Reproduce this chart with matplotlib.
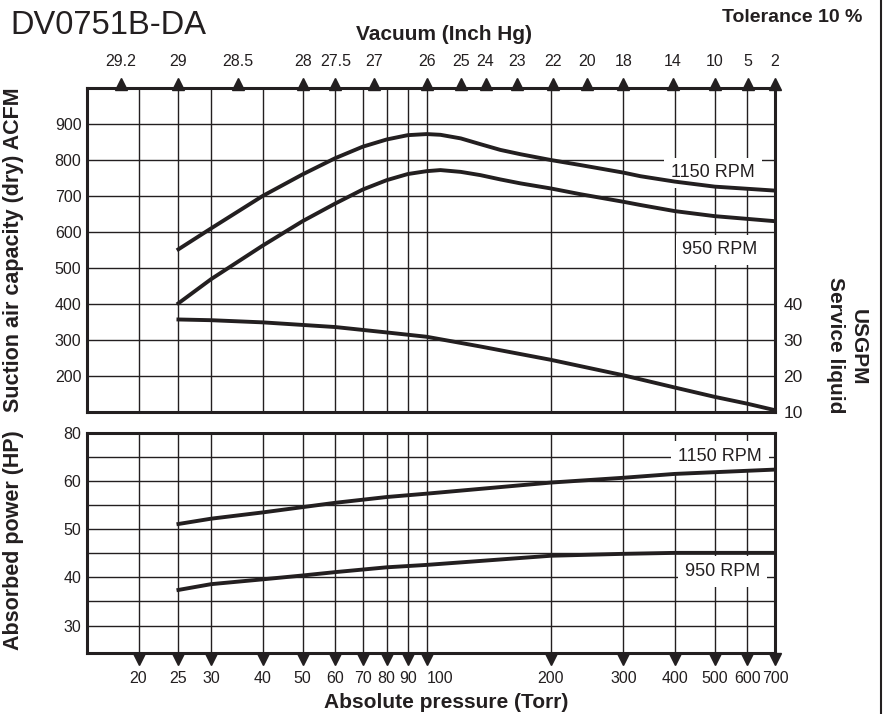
import numpy as np
import matplotlib.pyplot as plt
from matplotlib import transforms
from matplotlib.ticker import NullLocator
from matplotlib.lines import Line2D

plt.rcParams['font.family'] = ['Liberation Sans', 'DejaVu Sans']

# --- data ---
torr_ticks = [20, 25, 30, 40, 50, 60, 70, 80, 90, 100, 200, 300, 400, 500, 600, 700]
torr_labels = [str(t) for t in torr_ticks]

# vacuum scale (inch Hg) and where its marks sit on the Torr axis
vac_labels = ['29.2', '29', '28.5', '28', '27.5', '27', '26', '25', '24', '23',
              '22', '20', '18', '14', '10', '5', '2']
vac_torr = [18.1, 25, 34.8, 50.2, 60.1, 74.7, 100.4, 121, 139, 166,
            202, 245, 300, 396, 501, 602, 700]

# suction capacity (ACFM)
acfm_p = [25, 30, 40, 50, 60, 70, 80, 90, 100, 108, 121, 135, 151, 169, 200, 236, 300, 330, 400, 500, 700]
acfm_1150 = [552, 610, 700, 760, 805, 837, 857, 869, 872, 870, 860, 844, 828, 816, 800, 786, 765, 755, 740, 726, 715]
acfm_950 = [402, 469, 562, 630, 679, 718, 744, 761, 769, 772, 767, 758, 746, 735, 721, 705, 684, 675, 658, 644, 630]

# service liquid (USGPM)
liq_p = [25, 30, 40, 60, 80, 100, 135, 200, 300, 400, 500, 600, 700]
liq_gpm = [35.7, 35.5, 34.9, 33.6, 32.1, 30.9, 28.2, 24.5, 20.2, 16.8, 14.2, 12.3, 10.5]

# absorbed power (HP)
hp_p = [25, 30, 40, 50, 60, 80, 100, 200, 300, 400, 700]
hp_1150 = [51.1, 52.2, 53.5, 54.6, 55.5, 56.7, 57.4, 59.7, 60.7, 61.5, 62.4]
hp_950 = [37.4, 38.6, 39.6, 40.4, 41.1, 42.1, 42.6, 44.5, 44.9, 45.1, 45.1]

acfm_ticks = [200, 300, 400, 500, 600, 700, 800, 900]
gpm_ticks = [10, 20, 30, 40]
hp_ticks = [30, 40, 50, 60, 70]
hp_tick_labels = ['30', '40', '50', '60', '80']
hp_minor = [35, 45, 55, 65]

ink = '#231f20'
grid_kw = dict(color=ink, linewidth=1.0)
W, H = 885, 714

fig = plt.figure(figsize=(W / 100, H / 100), dpi=100)
ax1 = fig.add_axes([87 / W, 1 - 412 / H, 688 / W, 324 / H])
ax2 = fig.add_axes([87 / W, 1 - 653 / H, 688 / W, 220 / H])

for ax in (ax1, ax2):
    ax.set_xscale('log')
    ax.set_xlim(15, 700)
    ax.set_xticks(torr_ticks)
    ax.xaxis.set_minor_locator(NullLocator())
    ax.grid(True, which='both', **grid_kw)
    ax.set_axisbelow(True)
    ax.tick_params(which='both', length=0, labelsize=11.5, colors=ink, pad=4)
    for s in ax.spines.values():
        s.set_linewidth(2.2)
        s.set_color(ink)

# --- upper panel ---
ax1.set_xticklabels([])
ax1.set_ylim(100, 1000)
ax1.set_yticks(acfm_ticks)
ax1.plot(acfm_p, acfm_1150, color=ink, lw=2.8, zorder=4)
ax1.plot(acfm_p, acfm_950, color=ink, lw=2.8, zorder=4)

ax3 = ax1.twinx()
ax3.set_ylim(10, 100)
ax3.set_yticks(gpm_ticks)
ax3.tick_params(length=0, labelsize=12.5, colors=ink, pad=6)
for s in ax3.spines.values():
    s.set_visible(False)
ax3.plot(liq_p, liq_gpm, color=ink, lw=2.8, zorder=4)

top = ax1.secondary_xaxis('top')
top.set_xticks(vac_torr, labels=vac_labels)
top.xaxis.set_minor_locator(NullLocator())
top.tick_params(length=0, pad=14, labelsize=11.5, colors=ink)
top.spines['top'].set_visible(False)

up = transforms.offset_copy(transforms.blended_transform_factory(ax1.transData, ax1.transAxes),
                            fig=fig, y=3, units='points')
ax1.plot(vac_torr, [1] * len(vac_torr), '^', ms=8, color=ink, transform=up, clip_on=False)

box = dict(facecolor='white', edgecolor='none', pad=5)
ax1.text(495, 764, '1150 RPM', fontsize=13, ha='center', va='center', color=ink, bbox=box, zorder=3)
ax1.text(515, 550, '950 RPM', fontsize=13, ha='center', va='center', color=ink, bbox=box, zorder=3)

# --- lower panel ---
ax2.set_xticklabels(torr_labels)
ax2.tick_params(axis='x', pad=13)
for lab in ax2.get_xticklabels():
    if lab.get_text() == '100':
        lab.set_horizontalalignment('left')
ax2.set_ylim(24.3, 70)
ax2.set_yticks(hp_ticks, labels=hp_tick_labels)
ax2.set_yticks(hp_minor, minor=True)
ax2.plot(hp_p, hp_1150, color=ink, lw=2.8, zorder=4)
ax2.plot(hp_p, hp_950, color=ink, lw=2.8, zorder=4)
ax2.text(515, 65.1, '1150 RPM', fontsize=13, ha='center', va='center', color=ink, bbox=box, zorder=3)
ax2.text(521, 41.2, '950 RPM', fontsize=13, ha='center', va='center', color=ink, bbox=box, zorder=3)

down = transforms.offset_copy(transforms.blended_transform_factory(ax2.transData, ax2.transAxes),
                              fig=fig, y=-4, units='points')
ax2.plot(torr_ticks, [0] * len(torr_ticks), 'v', ms=8, color=ink, transform=down, clip_on=False)

# --- titles and axis names ---
fig.text(10 / W, 1 - 25 / H, 'DV0751B-DA', fontsize=23.5, ha='left', va='center', color=ink)
fig.text(862 / W, 1 - 18 / H, 'Tolerance 10 %', fontsize=14, fontweight='bold', ha='right', va='center', color=ink)
fig.text(444 / W, 1 - 35 / H, 'Vacuum (Inch Hg)', fontsize=15, fontweight='bold', ha='center', va='center', color=ink)
fig.text(446 / W, 1 - 702 / H, 'Absolute pressure (Torr)', fontsize=15, fontweight='bold', ha='center', va='center', color=ink)
fig.text(14 / W, 1 - 250 / H, 'Suction air capacity (dry) ACFM', fontsize=15.5, fontweight='bold',
         rotation=90, ha='center', va='center', color=ink)
fig.text(14 / W, 1 - 540 / H, 'Absorbed power (HP)', fontsize=15.5, fontweight='bold',
         rotation=90, ha='center', va='center', color=ink)
fig.text(835 / W, 1 - 345 / H, 'Service liquid', fontsize=15, fontweight='bold',
         rotation=270, ha='center', va='center', color=ink)
fig.text(858 / W, 1 - 347 / H, 'USGPM', fontsize=15, fontweight='bold',
         rotation=270, ha='center', va='center', color=ink)

fig.add_artist(Line2D([881 / W, 881 / W], [0, 1], color=ink, lw=1.5))

fig.savefig('out.png', dpi=100)
